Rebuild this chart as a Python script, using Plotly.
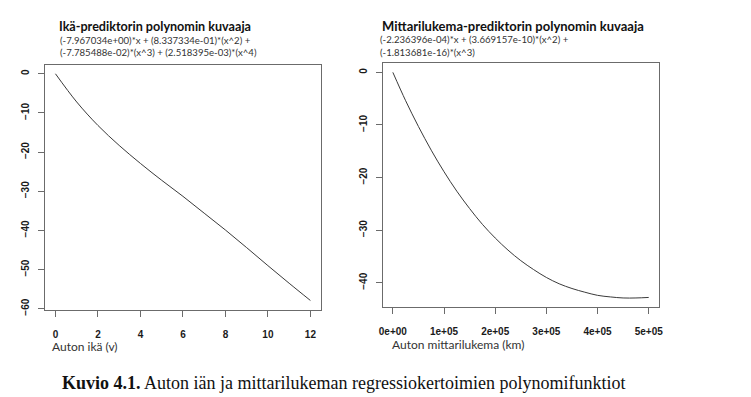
import plotly.graph_objects as go

# ---- data ----
age_x = [0, 1, 2, 3, 4, 5, 6, 7, 8, 9, 10, 11, 12]
age_y = [0.0, -7.2, -13.2, -18.3, -22.9, -27.2, -31.3, -35.6, -39.9, -44.4, -49.0, -53.5, -57.9]

km_x = [0, 25000, 50000, 75000, 100000, 125000, 150000, 175000, 200000, 225000,
        250000, 275000, 300000, 325000, 350000, 375000, 400000, 425000, 450000, 475000, 500000]
km_y = [0.0, -5.4, -10.3, -14.8, -18.9, -22.6, -25.9, -28.9, -31.5, -33.8,
        -35.8, -37.5, -39.0, -40.2, -41.1, -41.8, -42.4, -42.7, -42.9, -42.9, -42.8]

age_xticks = [0, 2, 4, 6, 8, 10, 12]
age_yticks = [0, -10, -20, -30, -40, -50, -60]
km_xticks = [0, 100000, 200000, 300000, 400000, 500000]
km_xticklabels = ["0e+00", "1e+05", "2e+05", "3e+05", "4e+05", "5e+05"]
km_yticks = [0, -10, -20, -30, -40]

title_left = "Ikä-prediktorin polynomin kuvaaja"
sub_left = ["(-7.967034e+00)*x + (8.337334e-01)*(x^2) +",
            "(-7.785488e-02)*(x^3) + (2.518395e-03)*(x^4)"]
title_right = "Mittarilukema-prediktorin polynomin kuvaaja"
sub_right = ["(-2.236396e-04)*x + (3.669157e-10)*(x^2) +",
             "(-1.813681e-16)*(x^3)"]
xlabel_left = "Auton ikä (v)"
xlabel_right = "Auton mittarilukema (km)"
caption_bold = "Kuvio 4.1."
caption_rest = " Auton iän ja mittarilukeman regressiokertoimien polynomifunktiot"

W, H = 751, 397

def px(x):
    return x / W

def py(y):
    return 1 - y / H

fig = go.Figure()
fig.add_trace(go.Scatter(x=age_x, y=age_y, mode="lines", line=dict(color="#3a3a3a", width=1, shape="spline"),
                         xaxis="x", yaxis="y", showlegend=False, hoverinfo="skip"))
fig.add_trace(go.Scatter(x=km_x, y=km_y, mode="lines", line=dict(color="#3a3a3a", width=1, shape="spline"),
                         xaxis="x2", yaxis="y2", showlegend=False, hoverinfo="skip"))

tickfont = dict(family="Liberation Sans", size=10, weight="bold", color="#1a1a1a")
axis_common = dict(showline=True, mirror=True, linecolor="#6b6b6b", linewidth=1,
                   ticks="outside", ticklen=6, tickcolor="#6b6b6b", tickwidth=1,
                   showgrid=False, zeroline=False, tickfont=tickfont)

def yrange(vals):
    lo, hi = min(vals), max(vals)
    pad = 0.04 * (hi - lo)
    return [lo - pad, hi + pad]

fig.update_layout(
    width=W, height=H, autosize=False,
    margin=dict(l=0, r=0, t=0, b=0),
    paper_bgcolor="white", plot_bgcolor="white",
    xaxis=dict(domain=[px(41.7), px(320)], range=yrange(age_x), tickvals=age_xticks,
               anchor="y", ticklabelstandoff=9, **axis_common),
    yaxis=dict(domain=[py(314.3), py(65.7)], range=yrange(age_y), tickvals=age_yticks,
               tickangle=-90, anchor="x", ticklabelstandoff=5, **axis_common),
    xaxis2=dict(domain=[px(382.7), px(662)], range=yrange(km_x), tickvals=km_xticks,
                ticktext=km_xticklabels, anchor="y2", ticklabelstandoff=9, **axis_common),
    yaxis2=dict(domain=[py(311.7), py(64.3)], range=yrange(km_y), tickvals=km_yticks,
                tickangle=-90, anchor="x2", ticklabelstandoff=5, **axis_common),
)

ann = []
def text(x, y, s, size, family="Lato", bold=False, color="#222222"):
    ann.append(dict(x=px(x), y=py(y), xref="paper", yref="paper", text=s, showarrow=False,
                    xanchor="left", yanchor="middle", align="left", borderpad=0,
                    font=dict(family=family, size=size, color=color, weight="bold" if bold else "normal")))

text(55, 27, title_left, 12.6, bold=True, color="#111111")
text(56, 41, sub_left[0], 9.6, color="#333333")
text(56, 53.5, sub_left[1], 9.6, color="#333333")
text(381, 26, title_right, 13, bold=True, color="#111111")
text(379, 40, sub_right[0], 9.6, color="#333333")
text(379, 53.5, sub_right[1], 9.6, color="#333333")
text(48, 352, xlabel_left, 12, color="#333333")
text(391, 350, xlabel_right, 12, color="#333333")
text(58, 389, "<b>" + caption_bold + "</b>" + caption_rest, 18, family="Liberation Serif", color="#111111")

fig.update_layout(annotations=ann)
fig.write_html("out.html", config={"displayModeBar": False},
               post_script="document.body.style.margin='0';document.body.style.padding='0';")
